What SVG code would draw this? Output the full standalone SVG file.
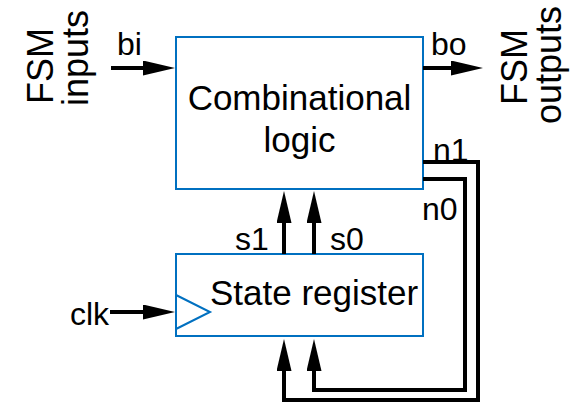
<svg xmlns="http://www.w3.org/2000/svg" width="577" height="403" viewBox="0 0 577 403">
  <style>
    .box { fill: #ffffff; stroke: #0070C0; stroke-width: 2; }
    .clk { fill: none; stroke: #0070C0; stroke-width: 2; }
    .big { font-family: "Liberation Sans", Arial, sans-serif; font-size: 35px; fill: #000; }
    .side { font-family: "Liberation Sans", Arial, sans-serif; font-size: 36px; fill: #000; }
    .lbl { font-family: "Liberation Sans", Arial, sans-serif; font-size: 32px; fill: #000; }
    .wire { fill: none; stroke: #000; stroke-width: 4; stroke-linejoin: miter; }
    .arr { marker-end: url(#ah); }
  </style>
  <defs>
    <marker id="ah" markerUnits="userSpaceOnUse" markerWidth="32" markerHeight="15" refX="10" refY="7.5" orient="auto">
      <path d="M0,0 L32,7.5 L0,15 z" fill="#000"/>
    </marker>
  </defs>

  <g id="side-labels">
    <text class="side" text-anchor="middle" transform="translate(53,66) rotate(-90)">FSM</text>
    <text class="side" text-anchor="middle" transform="translate(88,58) rotate(-90)">inputs</text>
    <text class="side" text-anchor="middle" transform="translate(527,67) rotate(-90)">FSM</text>
    <text class="side" text-anchor="middle" transform="translate(561,65) rotate(-90)">outputs</text>
  </g>

  <g id="comb-logic">
    <rect class="box" x="176" y="37" width="247" height="152"/>
    <text class="big" x="299.5" y="110" text-anchor="middle">Combinational</text>
    <text class="big" x="299.5" y="152" text-anchor="middle">logic</text>
  </g>

  <g id="state-register">
    <rect class="box" x="176" y="254" width="247" height="82"/>
    <polyline class="clk" points="176,295 210,312 176,329"/>
    <text class="big" x="210" y="305">State register</text>
  </g>

  <g id="connectors">
    <line class="wire arr" x1="111" y1="68" x2="153" y2="68"/>
    <line class="wire arr" x1="423" y1="68" x2="461" y2="68"/>
    <line class="wire arr" x1="110" y1="312" x2="153" y2="312"/>
    <line class="wire arr" x1="284" y1="254" x2="284" y2="213"/>
    <line class="wire arr" x1="314" y1="254" x2="314" y2="213"/>
    <polyline class="wire arr" points="423,162 478,162 478,400 284,400 284,361"/>
    <polyline class="wire arr" points="423,179 465,179 465,390 314,390 314,361"/>
  </g>

  <g id="labels">
    <text class="lbl" x="117" y="55">bi</text>
    <text class="lbl" x="431" y="55">bo</text>
    <text class="lbl" x="70" y="325">clk</text>
    <text class="lbl" x="235" y="250">s1</text>
    <text class="lbl" x="330" y="250">s0</text>
    <text class="lbl" x="433" y="161">n1</text>
    <text class="lbl" x="422" y="220">n0</text>
  </g>
</svg>
